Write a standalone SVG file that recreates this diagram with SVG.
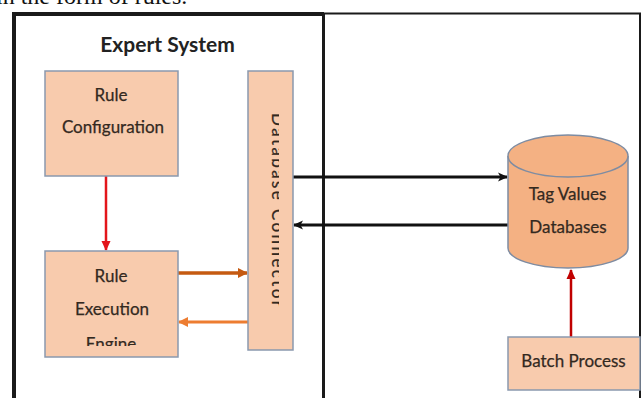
<svg xmlns="http://www.w3.org/2000/svg" width="642" height="398" viewBox="0 0 642 398">
  <style>
    .lbl { font-family: Lato, "Open Sans", "Liberation Sans", sans-serif; font-size: 17px; fill: #33291f; text-anchor: middle; stroke: #33291f; stroke-width: 0.25; }
    .box { fill: #F8CBAD; stroke: #8A99AE; stroke-width: 1.5; }
    .db { fill: #F4B183; stroke: #7E8CA2; stroke-width: 1.5; }
    .frame { fill: none; stroke: #1a1a1a; }
  </style>
  <defs>
    <marker id="ahBlack" markerWidth="10" markerHeight="10" refX="9" refY="5" orient="auto" markerUnits="userSpaceOnUse">
      <path d="M0,0.5 L10,5 L0,9.5 L2.5,5 Z" fill="#111"/>
    </marker>
    <marker id="ahRed" markerWidth="10" markerHeight="12" refX="9" refY="5" orient="auto" markerUnits="userSpaceOnUse">
      <path d="M0,0.5 L10,5 L0,9.5 Z" fill="#E3151B"/>
    </marker>
    <marker id="ahDarkRed" markerWidth="10" markerHeight="12" refX="9" refY="5" orient="auto" markerUnits="userSpaceOnUse">
      <path d="M0,0.5 L10,5 L0,9.5 Z" fill="#C00000"/>
    </marker>
    <marker id="ahOrangeDark" markerWidth="10" markerHeight="12" refX="9" refY="5.5" orient="auto" markerUnits="userSpaceOnUse">
      <path d="M0,0.5 L10,5.5 L0,10.5 Z" fill="#C55A11"/>
    </marker>
    <marker id="ahOrange" markerWidth="10" markerHeight="12" refX="9" refY="5.5" orient="auto" markerUnits="userSpaceOnUse">
      <path d="M0,0.5 L10,5.5 L0,10.5 Z" fill="#ED7D31"/>
    </marker>
    <clipPath id="engineClip"><rect x="45" y="251" width="133" height="95"/></clipPath>
    <clipPath id="connClip"><rect x="249" y="72" width="30" height="277"/></clipPath>
  </defs>

  <!-- running text above the figure -->
  <text x="-4" y="4" font-family="'Liberation Serif', serif" font-size="24" fill="#111">in the form of rules.</text>

  <!-- frame: expert system panel and outer panel -->
  <g id="frame">
    <polyline class="frame" points="14,400 14,14 324,14" stroke-width="4"/>
    <polyline class="frame" points="324,13.5 640,13.5 640,400" stroke-width="2"/>
    <line class="frame" x1="323.5" y1="13" x2="323.5" y2="400" stroke-width="3"/>
    <text x="167.5" y="52" font-family="Lato, 'Open Sans', 'Liberation Sans', sans-serif" font-size="21" font-weight="bold" fill="#222" text-anchor="middle">Expert System</text>
  </g>

  <g id="connectors">
    <line x1="106" y1="176" x2="106" y2="250" stroke="#E3151B" stroke-width="2.5" marker-end="url(#ahRed)"/>
    <line x1="178" y1="273" x2="247" y2="273" stroke="#C55A11" stroke-width="3.5" marker-end="url(#ahOrangeDark)"/>
    <line x1="248" y1="322" x2="179" y2="322" stroke="#ED7D31" stroke-width="3" marker-end="url(#ahOrange)"/>
    <line x1="293" y1="177" x2="507" y2="177" stroke="#111" stroke-width="3" marker-end="url(#ahBlack)"/>
    <line x1="508" y1="225" x2="294" y2="225" stroke="#111" stroke-width="3" marker-end="url(#ahBlack)"/>
    <line x1="571" y1="337" x2="571" y2="270" stroke="#C00000" stroke-width="2.5" marker-end="url(#ahDarkRed)"/>
  </g>

  <g id="rule-configuration">
    <rect class="box" x="45" y="71" width="133" height="105"/>
    <text class="lbl" x="111" y="101">Rule</text>
    <text class="lbl" x="113" y="133">Configuration</text>
  </g>

  <g id="rule-execution-engine">
    <rect class="box" x="45" y="251" width="133" height="106"/>
    <text class="lbl" x="111" y="282">Rule</text>
    <text class="lbl" x="112" y="315">Execution</text>
    <text class="lbl" x="111" y="350" clip-path="url(#engineClip)">Engine</text>
  </g>

  <g id="database-connector">
    <rect class="box" x="248" y="71" width="45" height="279"/>
    <g clip-path="url(#connClip)">
      <text class="lbl" x="0" y="0" transform="translate(272,210) rotate(90)" textLength="194" lengthAdjust="spacing">Database Connector</text>
    </g>
  </g>

  <g id="tag-values-databases">
    <path class="db" d="M508,156 L508,248 A60,20 0 0 0 628,248 L628,156"/>
    <ellipse class="db" cx="568" cy="156" rx="60" ry="21"/>
    <text class="lbl" x="567.5" y="200">Tag Values</text>
    <text class="lbl" x="568" y="233">Databases</text>
  </g>

  <g id="batch-process">
    <rect class="box" x="508" y="337" width="132" height="53"/>
    <text class="lbl" x="573.5" y="367">Batch Process</text>
  </g>
</svg>
